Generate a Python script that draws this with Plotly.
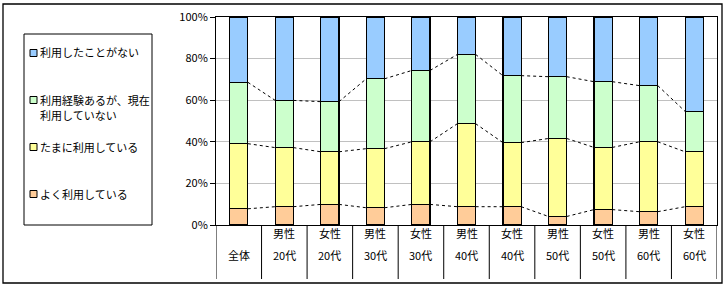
import numpy as np
import plotly.graph_objects as go

top_labels = ["", "男性", "女性", "男性", "女性", "男性", "女性", "男性", "女性", "男性", "女性"]
bottom_labels = ["全体", "20代", "20代", "30代", "30代", "40代", "40代", "50代", "50代", "60代", "60代"]
y_tick_vals = [0, 20, 40, 60, 80, 100]
y_tick_text = ["0%", "20%", "40%", "60%", "80%", "100%"]

series_names = ["よく利用している", "たまに利用している", "利用経験あるが、現在<br>利用していない", "利用したことがない"]
often = [7.8, 8.8, 9.9, 8.3, 9.9, 8.8, 8.8, 4.1, 7.4, 6.4, 8.8]
sometimes = [31.3, 28.4, 25.3, 28.4, 30.1, 39.9, 30.8, 37.5, 29.9, 33.6, 26.4]
used_before = [29.5, 22.7, 24.1, 33.6, 34.3, 33.3, 32.2, 29.7, 31.6, 27.0, 19.4]
never = [31.4, 40.1, 40.7, 29.7, 25.7, 18.0, 28.2, 28.7, 31.1, 33.0, 45.4]
colors = ["#FFCC99", "#FFFF99", "#CCFFCC", "#99CCFF"]

FONT = "Noto Sans CJK JP"
W, H = 724, 287
L, R, T, B = 216, 7, 17, 62
PW, PH = W - L - R, H - T - B
BAR_W = 0.4


def px(x):
    return (x - L) / PW


def py(y):
    return (H - B - y) / PH


xs = np.arange(len(bottom_labels))
data = [often, sometimes, used_before, never]

fig = go.Figure()
for name, vals, col in zip(series_names, data, colors):
    fig.add_trace(go.Bar(
        x=xs, y=vals, name=name, width=BAR_W,
        marker=dict(color=col, line=dict(color="black", width=1.2)),
        showlegend=False,
    ))

# series lines (dashed connectors between stacked segment tops)
cum = np.cumsum(np.array(data[:3]), axis=0)
for level in cum:
    lx, ly = [], []
    for i in range(len(xs) - 1):
        lx += [xs[i] + BAR_W / 2, xs[i + 1] - BAR_W / 2, None]
        ly += [level[i], level[i + 1], None]
    fig.add_trace(go.Scatter(x=lx, y=ly, mode="lines", showlegend=False,
                             line=dict(color="black", width=1, dash="3px,3px"),
                             hoverinfo="skip"))

shapes = []
annotations = []
# category dividers below the axis
for i in range(len(xs) + 1):
    shapes.append(dict(type="line", xref="x", yref="paper", x0=i - 0.5, x1=i - 0.5,
                       y0=0, y1=py(279), line=dict(color="black", width=1)))
# category labels
for i in range(len(xs)):
    if top_labels[i]:
        annotations.append(dict(x=i, y=py(243), xref="x", yref="paper", text=top_labels[i],
                                showarrow=False, font=dict(family=FONT, size=11, color="black")))
    annotations.append(dict(x=i, y=py(265), xref="x", yref="paper", text=bottom_labels[i],
                            showarrow=False, font=dict(family=FONT, size=11, color="black")))

# outer chart border
shapes.append(dict(type="rect", xref="paper", yref="paper", x0=px(3), x1=px(722), y0=py(283), y1=py(4),
                   line=dict(color="black", width=1.3)))

# legend box
shapes.append(dict(type="rect", xref="paper", yref="paper", x0=px(24), x1=px(152), y0=py(225), y1=py(34),
                   line=dict(color="black", width=1), fillcolor="white"))
legend_y = [194, 147, 100, 53]
for name, col, ly in zip(series_names, colors, legend_y):
    shapes.append(dict(type="rect", xref="paper", yref="paper", x0=px(30), x1=px(37),
                       y0=py(ly + 3.5), y1=py(ly - 3.5), line=dict(color="black", width=1), fillcolor=col))
    for k, line in enumerate(name.split("<br>")):
        annotations.append(dict(x=px(39), y=py(ly - 0.5 + 15 * k), xref="paper", yref="paper", text=line,
                                xanchor="left", yanchor="middle", align="left", showarrow=False,
                                borderpad=0, font=dict(family=FONT, size=11, color="black")))

fig.update_layout(
    barmode="stack",
    width=W, height=H,
    margin=dict(l=L, r=R, t=T, b=B),
    paper_bgcolor="white", plot_bgcolor="white",
    font=dict(family=FONT, size=11, color="black"),
    xaxis=dict(range=[-0.5, len(xs) - 0.5], showticklabels=False, ticks="",
               showline=True, linecolor="black", linewidth=1, mirror=True, showgrid=False, zeroline=False),
    yaxis=dict(range=[0, 100], tickvals=y_tick_vals, ticktext=y_tick_text,
               ticks="outside", ticklen=5, tickcolor="black",
               showline=True, linecolor="black", linewidth=1, mirror=True,
               showgrid=True, gridcolor="#C0C0C0", gridwidth=1, zeroline=False,
               tickfont=dict(family=FONT, size=11)),
    shapes=shapes, annotations=annotations,
    bargap=0.6,
)

fig.write_html("out.html", config={"displayModeBar": False},
               post_script="document.body.style.margin='0';")
